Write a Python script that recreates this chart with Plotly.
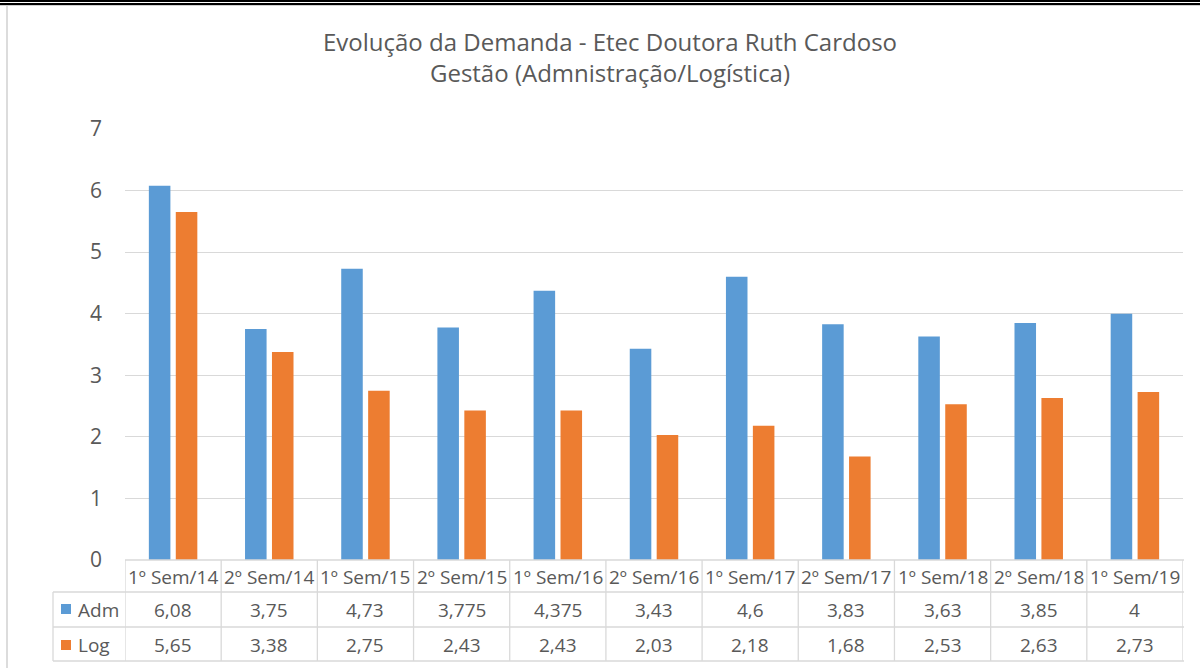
import plotly.graph_objects as go

categories = ["1º Sem/14", "2º Sem/14", "1º Sem/15", "2º Sem/15", "1º Sem/16", "2º Sem/16",
              "1º Sem/17", "2º Sem/17", "1º Sem/18", "2º Sem/18", "1º Sem/19"]
adm = [6.08, 3.75, 4.73, 3.775, 4.375, 3.43, 4.6, 3.83, 3.63, 3.85, 4]
log = [5.65, 3.38, 2.75, 2.43, 2.43, 2.03, 2.18, 1.68, 2.53, 2.63, 2.73]
series_names = ["Adm", "Log"]
colors = ["#5B9BD5", "#ED7D31"]
title_lines = ["Evolução da Demanda - Etec Doutora Ruth Cardoso", "Gestão (Admnistração/Logística)"]

FONT = "Open Sans"
TXT = "#595959"
GRID = "#D9D9D9"

L, R, T, B = 125, 17, 129, 108
W, H = 1200, 668
PW, PH = W - L - R, H - T - B


def px(xp):
    return (xp - L) / PW


def py(yp):
    return (H - B - yp) / PH


def fmt(v):
    return ("%g" % v).replace(".", ",")


fig = go.Figure()
for name, vals, c in zip(series_names, [adm, log], colors):
    fig.add_trace(go.Bar(x=categories, y=vals, name=name, marker=dict(color=c, line=dict(width=0)),
                         showlegend=False))

shapes = []
ann = []
for yy in [592, 627, 661]:
    shapes.append(dict(type="line", xref="paper", yref="paper", x0=px(53), x1=px(1184),
                       y0=py(yy), y1=py(yy), line=dict(color=GRID, width=1.3)))
shapes.append(dict(type="line", xref="paper", yref="paper", x0=0, x1=px(1184),
                   y0=0, y1=0, line=dict(color=GRID, width=1.3)))
shapes.append(dict(type="line", xref="paper", yref="paper", x0=px(53), x1=px(53),
                   y0=py(592), y1=py(661), line=dict(color=GRID, width=1.3)))
for i in range(len(categories) + 1):
    shapes.append(dict(type="line", xref="x", yref="paper", x0=i - 0.5, x1=i - 0.5,
                       y0=0, y1=py(661), line=dict(color=GRID, width=1.3)))

TF = dict(family=FONT, size=19, color=TXT)
row_y = [py(610), py(644.5)]
for i, cat in enumerate(categories):
    ann.append(dict(x=cat, xref="x", y=py(576.5), yref="paper", yanchor="middle", xanchor="center",
                    text=cat, showarrow=False, font=TF))
    for r, vals in enumerate([adm, log]):
        ann.append(dict(x=cat, xref="x", y=row_y[r], yref="paper", yanchor="middle", xanchor="center",
                        text=fmt(vals[i]), showarrow=False, font=TF))
for r, (name, c) in enumerate(zip(series_names, colors)):
    yc = [609, 645][r]
    shapes.append(dict(type="rect", xref="paper", yref="paper", x0=px(61), x1=px(71),
                       y0=py(yc - 5), y1=py(yc + 5), fillcolor=c, line=dict(width=0)))
    ann.append(dict(x=px(76), xref="paper", xanchor="left", y=row_y[r], yref="paper", yanchor="middle",
                    text=name, showarrow=False, font=TF))

ann.append(dict(x=px(610), xref="paper", xanchor="center", y=py(57), yref="paper", yanchor="middle",
                text="<br>".join(title_lines), showarrow=False, align="center",
                font=dict(family=FONT, size=24, color=TXT)))

# page border: light grey base, then two black bands on top, grey line at the left
shapes.append(dict(type="rect", xref="paper", yref="paper", x0=px(0), x1=px(1200), y0=py(0), y1=py(6),
                   fillcolor="#D0D0D0", line=dict(width=0), layer="above"))
shapes.append(dict(type="rect", xref="paper", yref="paper", x0=px(0), x1=px(1200), y0=py(2), y1=py(3),
                   fillcolor="#FFFFFF", line=dict(width=0), layer="above"))
shapes.append(dict(type="rect", xref="paper", yref="paper", x0=px(0), x1=px(1200), y0=py(0), y1=py(2),
                   fillcolor="#000000", line=dict(width=0), layer="above"))
shapes.append(dict(type="rect", xref="paper", yref="paper", x0=px(0), x1=px(1200), y0=py(3), y1=py(5),
                   fillcolor="#000000", line=dict(width=0), layer="above"))
shapes.append(dict(type="line", xref="paper", yref="paper", x0=px(7), x1=px(7), y0=py(6), y1=py(668),
                   line=dict(color="#D0D0D0", width=1.5)))

fig.update_layout(
    width=W, height=H,
    margin=dict(l=L, r=R, t=T, b=B, pad=0),
    paper_bgcolor="white", plot_bgcolor="white",
    barmode="group", bargap=0.44, bargroupgap=0.2,
    shapes=shapes, annotations=ann,
    xaxis=dict(showticklabels=False, showgrid=False, zeroline=False, showline=False,
               range=[-0.5, len(categories) - 0.5]),
    yaxis=dict(range=[0, 7], dtick=1, showgrid=True, gridcolor=GRID, gridwidth=1.3,
               zeroline=False, showline=False, ticks="", ticklabelstandoff=22,
               tickfont=dict(family=FONT, size=21, color=TXT)),
    font=dict(family=FONT, color=TXT),
)

fig.write_html("out.html", config={"displayModeBar": False},
               post_script="document.body.style.margin='0';document.documentElement.style.margin='0';")
